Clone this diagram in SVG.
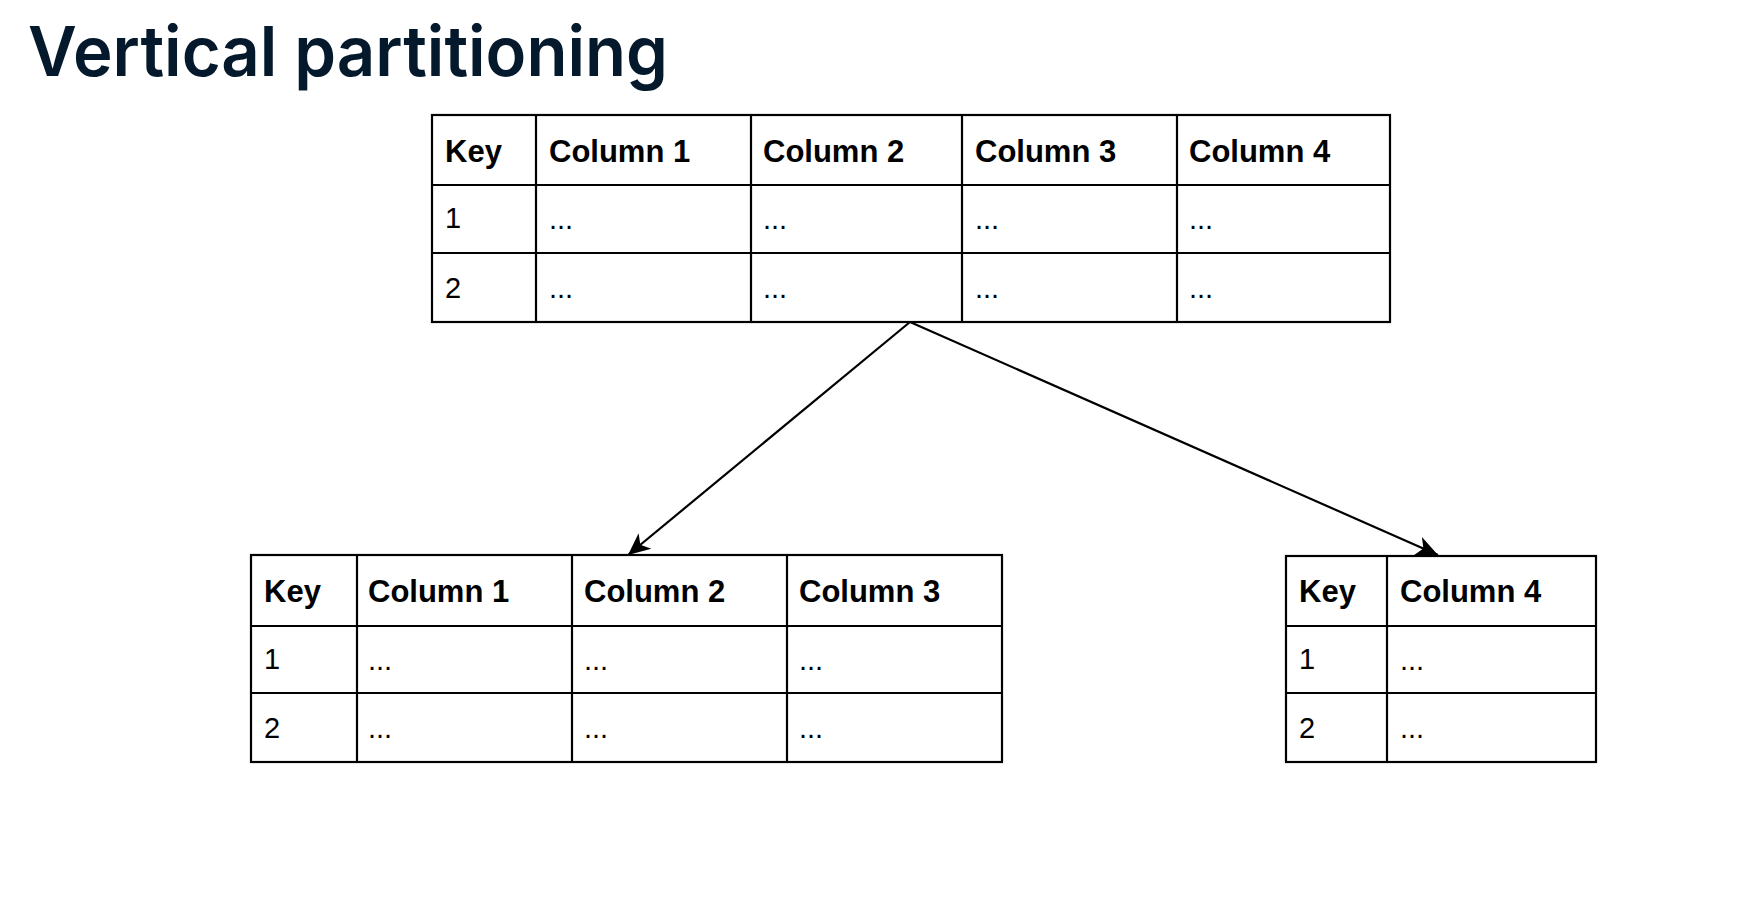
<svg xmlns="http://www.w3.org/2000/svg" width="1743" height="915" viewBox="0 0 1743 915">
<style>
.grid{fill:none;stroke:#000;stroke-width:2.2}
.h{font-family:"Liberation Sans",Arial,sans-serif;font-size:31px;font-weight:bold;fill:#000}
.c{font-family:"Liberation Sans",Arial,sans-serif;font-size:29px;fill:#000}
.title{font-family:Inter,"Noto Sans",sans-serif;font-size:69px;font-weight:600;fill:#05192D}
.conn{fill:none;stroke:#000;stroke-width:2.2}
</style>
<defs>
<marker id="arr" viewBox="-24 -12 26 24" refX="0" refY="0" markerWidth="26" markerHeight="24" markerUnits="userSpaceOnUse" orient="auto" overflow="visible">
<path d="M0,0 L-22,-10 L-16,0 L-22,10 Z" fill="#000"/>
</marker>
</defs>
<rect width="1743" height="915" fill="#fff"/>
<text class="title" x="28" y="76" textLength="640" lengthAdjust="spacingAndGlyphs">Vertical partitioning</text>

<g id="table-original">
<rect class="grid" x="432" y="115" width="958" height="207"/>
<path class="grid" d="M432,185H1390M432,253H1390M536,115V322M751,115V322M962,115V322M1177,115V322"/>
<text class="h" x="445" y="162">Key</text>
<text class="h" x="549" y="162">Column 1</text>
<text class="h" x="763" y="162">Column 2</text>
<text class="h" x="975" y="162">Column 3</text>
<text class="h" x="1189" y="162">Column 4</text>
<text class="c" x="445" y="228">1</text>
<text class="c" x="549" y="229">...</text>
<text class="c" x="763" y="229">...</text>
<text class="c" x="975" y="229">...</text>
<text class="c" x="1189" y="229">...</text>
<text class="c" x="445" y="298">2</text>
<text class="c" x="549" y="298">...</text>
<text class="c" x="763" y="298">...</text>
<text class="c" x="975" y="298">...</text>
<text class="c" x="1189" y="298">...</text>
</g>

<g id="table-part1">
<rect class="grid" x="251" y="555" width="751" height="207"/>
<path class="grid" d="M251,626H1002M251,693H1002M357,555V762M572,555V762M787,555V762"/>
<text class="h" x="264" y="602">Key</text>
<text class="h" x="368" y="602">Column 1</text>
<text class="h" x="584" y="602">Column 2</text>
<text class="h" x="799" y="602">Column 3</text>
<text class="c" x="264" y="669">1</text>
<text class="c" x="368" y="670">...</text>
<text class="c" x="584" y="670">...</text>
<text class="c" x="799" y="670">...</text>
<text class="c" x="264" y="738">2</text>
<text class="c" x="368" y="738">...</text>
<text class="c" x="584" y="738">...</text>
<text class="c" x="799" y="738">...</text>
</g>

<g id="table-part2">
<rect class="grid" x="1286" y="556" width="310" height="206"/>
<path class="grid" d="M1286,626H1596M1286,693H1596M1387,556V762"/>
<text class="h" x="1299" y="602">Key</text>
<text class="h" x="1400" y="602">Column 4</text>
<text class="c" x="1299" y="669">1</text>
<text class="c" x="1400" y="670">...</text>
<text class="c" x="1299" y="738">2</text>
<text class="c" x="1400" y="738">...</text>
</g>

<g id="connectors">
<path class="conn" d="M910,322L628,555" marker-end="url(#arr)"/>
<path class="conn" d="M910,322L1438,555" marker-end="url(#arr)"/>
</g>
</svg>
